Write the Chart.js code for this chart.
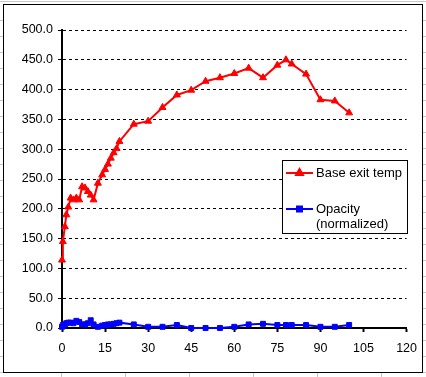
<!DOCTYPE html>
<html>
<head>
<meta charset="utf-8">
<script src="https://cdn.jsdelivr.net/npm/chart.js@4/dist/chart.umd.min.js"></script>
<style>
  html, body { margin: 0; padding: 0; background: #fff; }
  #wrap { width: 426px; height: 377px; }
</style>
</head>
<body>
<div id="wrap"><canvas id="chart" width="426" height="377"></canvas></div>
<script>
// time axis (shared by both series)
const timeX = [0, 0.3, 1, 1.5, 2.2, 3, 4, 5, 6, 7, 8, 9, 10, 11, 12.5, 14, 15, 16, 17, 18,
               19, 20, 25, 30, 35, 40, 45, 50, 55, 60, 65, 70, 75, 78, 80, 85, 90, 95, 100];

const baseExitTemp = [114, 145, 170, 190, 203, 218, 215, 218, 215, 237, 235, 229, 223, 215, 243, 257, 266, 275, 285, 294,
                      301, 313, 342, 347, 370, 391, 399, 414, 420, 427, 436, 420, 441, 450, 443, 426, 383, 381, 361];

const opacity = [2, 5, 6, 8, 9, 9, 8, 12, 10, 6, 6, 8, 13, 6, 2, 4, 5, 6, 6, 7,
                 8, 9, 6, 2, 2, 5, 0, 0, 0, 2, 6, 7, 5, 5, 5, 5, 2, 2, 5];

const seriesLabels = ['Base exit temp', 'Opacity (normalized)'];
const seriesColors = ['#ff0000', '#0000ff'];

const FONT = 'Arial, "Liberation Sans", sans-serif';

function toPoints(values) {
  return values.map((v, i) => ({ x: timeX[i], y: v }));
}

// white sheet, spreadsheet cells behind it and the chart border
const framePlugin = {
  id: 'frame',
  beforeDraw(chart) {
    const ctx = chart.ctx;
    ctx.save();
    ctx.fillStyle = '#fff';
    ctx.fillRect(0, 0, chart.width, chart.height);
    ctx.strokeStyle = '#c8c8c8';
    ctx.lineWidth = 1;
    ctx.beginPath();
    for (let y = 20.5; y < chart.height; y += 16) {
      ctx.moveTo(0, y); ctx.lineTo(3, y);
      ctx.moveTo(423, y); ctx.lineTo(426, y);
    }
    for (let x = 61.5; x < chart.width; x += 64) {
      ctx.moveTo(x, 373); ctx.lineTo(x, 377);
    }
    ctx.moveTo(0, 1.5); ctx.lineTo(426, 1.5);
    ctx.stroke();
    ctx.strokeStyle = '#000';
    ctx.strokeRect(3.5, 4.5, 419, 368);
    ctx.restore();
  }
};

// legend box drawn inside the plot, like the original
const legendPlugin = {
  id: 'boxLegend',
  afterDraw(chart) {
    const ctx = chart.ctx;
    const left = 282, top = 160, w = 125, h = 73;
    ctx.save();
    ctx.fillStyle = '#fff';
    ctx.fillRect(left, top, w, h);
    ctx.strokeStyle = '#000';
    ctx.lineWidth = 1;
    ctx.strokeRect(left + 0.5, top + 0.5, w, h);
    ctx.font = '13px ' + FONT;
    ctx.textBaseline = 'middle';
    const rowY = [173, 209];
    chart.data.datasets.forEach((ds, i) => {
      const y = rowY[i];
      ctx.strokeStyle = ds.borderColor;
      ctx.lineWidth = 2;
      ctx.beginPath();
      ctx.moveTo(286, y);
      ctx.lineTo(313, y);
      ctx.stroke();
      Chart.helpers.drawPoint(ctx, {
        pointStyle: ds.pointStyle, radius: ds.pointRadius, rotation: 0, borderWidth: 1
      }, 299.5, y);
      ctx.fillStyle = ds.borderColor;
      ctx.fill();
      // wrap label into the box
      const words = ds.label.split(' ');
      const lines = [];
      let cur = '';
      words.forEach(wd => {
        const test = cur ? cur + ' ' + wd : wd;
        if (cur && ctx.measureText(test).width > 88) { lines.push(cur); cur = wd; }
        else cur = test;
      });
      lines.push(cur);
      ctx.fillStyle = '#000';
      lines.forEach((ln, k) => ctx.fillText(ln, 316, y + k * 15));
    });
    ctx.restore();
  }
};

new Chart(document.getElementById('chart'), {
  type: 'line',
  data: {
    datasets: [
      {
        label: seriesLabels[0],
        data: toPoints(baseExitTemp),
        borderColor: seriesColors[0],
        backgroundColor: seriesColors[0],
        borderWidth: 2,
        pointStyle: 'triangle',
        pointRadius: 4,
        pointBorderWidth: 1,
        tension: 0,
        clip: false
      },
      {
        label: seriesLabels[1],
        data: toPoints(opacity),
        borderColor: seriesColors[1],
        backgroundColor: seriesColors[1],
        borderWidth: 2,
        pointStyle: 'rect',
        pointRadius: 3.5,
        pointBorderWidth: 1,
        tension: 0,
        clip: false
      }
    ]
  },
  options: {
    responsive: false,
    animation: false,
    devicePixelRatio: 1,
    layout: { padding: { left: 0, top: 30, right: 19, bottom: 0 } },
    plugins: {
      legend: { display: false },
      tooltip: { enabled: false }
    },
    scales: {
      x: {
        type: 'linear',
        min: 0,
        max: 120,
        afterFit(scale) { scale.height = 49; },
        ticks: {
          stepSize: 15,
          color: '#000',
          font: { family: FONT, size: 12.5 },
          padding: 9,
          maxRotation: 0
        },
        grid: {
          drawOnChartArea: false,
          drawTicks: true,
          tickLength: 4,
          tickColor: '#000',
          tickWidth: 2
        },
        border: { display: true, color: '#000', width: 2 }
      },
      y: {
        type: 'linear',
        min: 0,
        max: 500,
        afterFit(scale) { scale.width = 62; },
        ticks: {
          stepSize: 50,
          color: '#000',
          font: { family: FONT, size: 12.5 },
          padding: 5,
          callback: v => v.toFixed(1)
        },
        grid: {
          color: '#000',
          lineWidth: 1,
          drawTicks: true,
          tickLength: 4,
          tickColor: '#000',
          tickBorderDash: []
        },
        border: { display: true, color: '#000', width: 2, dash: [3, 3] }
      }
    }
  },
  plugins: [framePlugin, legendPlugin]
});
</script>
</body>
</html>
